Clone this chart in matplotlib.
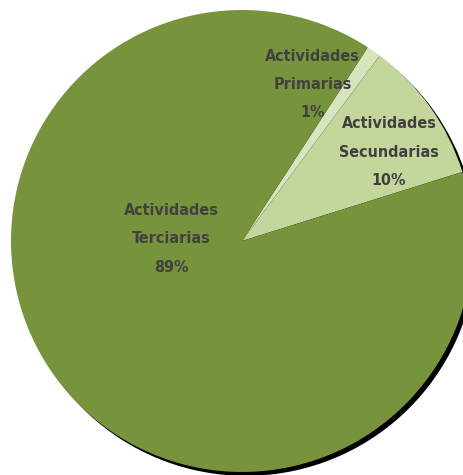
import matplotlib
matplotlib.use('Agg')
import matplotlib.pyplot as plt

categories = ['Actividades\nPrimarias', 'Actividades\nSecundarias', 'Actividades\nTerciarias']
values = [1, 10, 89]
colors = ['#D7E4BD', '#C3D69B', '#77933C']
label_pos = [(0.305, 0.677), (0.636, 0.385), (-0.307, 0.009)]

fig = plt.figure(figsize=(4.63, 4.75), dpi=100)
ax = fig.add_axes([0, 0, 1, 1])

wedges, _ = ax.pie(values, colors=colors, startangle=57, counterclock=False,
                   radius=1,
                   shadow={'ox': 0.012, 'oy': -0.012, 'shade': 1.0, 'alpha': 1.0},
                   wedgeprops={'linewidth': 0})

for cat, v, (x, y) in zip(categories, values, label_pos):
    ax.text(x, y, '%s\n%d%%' % (cat, v), ha='center', va='center',
            fontsize=11.5, color='#404040', family='DejaVu Sans',
            fontstretch='condensed', fontweight='bold', linespacing=2.1)

ax.set_xlim(-242 / 231, (463 - 242) / 231)
ax.set_ylim(-(475 - 241) / 231, 241 / 231)
ax.set_aspect('auto')
ax.axis('off')

fig.savefig('out.png', dpi=100)
